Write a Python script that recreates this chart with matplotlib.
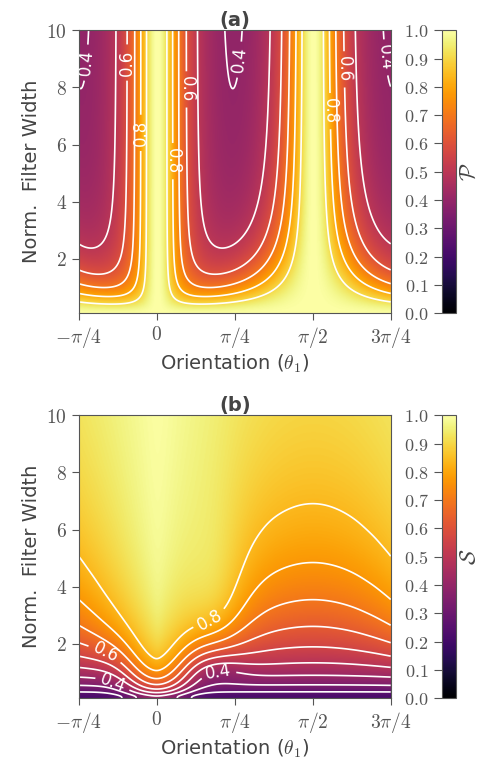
import numpy as np
import matplotlib
matplotlib.use("Agg")
import matplotlib.pyplot as plt

plt.rcParams["mathtext.fontset"] = "cm"
plt.rcParams["font.family"] = ["DejaVu Sans"]

# orientation and normalised filter width grid
theta = np.linspace(-np.pi / 4, 3 * np.pi / 4, 361)
width = np.linspace(0.1, 10.0, 400)

# joint spectrum widths (in filter-width units) used for the purity map
narrow_width = 0.67
broad_width = 3.34

# joint spectrum used for the transmission map: Gaussian across, sinc along
gauss_width = 1.75
sinc_width = 4.5
exponent = 0.4

# peak-density profile at narrow filters: angular width and roll-off width
core_dtheta = 0.28
core_rolloff = 1.6

# local asymmetry of the transmission map (walk-off side)
asym_theta = 0.6
asym_dtheta = 0.3
asym_gain = 0.075
asym_gain_width = 3.3
asym_gain_dlog = 0.5
asym_loss = 0.06
asym_loss_width = 1.1
asym_loss_dlog = 0.4

purity_levels = [0.1, 0.2, 0.3, 0.4, 0.5, 0.6, 0.7, 0.8, 0.9]
purity_labelled = purity_levels[3::2]
purity_label_pos = [(-0.722, 8.87), (0.811, 8.98), (2.28, 9.04),
                    (-0.302, 8.87), (0.318, 7.93), (1.878, 8.63),
                    (-0.185, 6.41), (0.167, 5.42), (1.761, 7.17)]

s_levels = [0.07, 0.14, 0.21, 0.28, 0.35, 0.42, 0.49, 0.56, 0.63, 0.70, 0.77, 0.84]
s_labelled = s_levels[2::3]
s_label_pos = [(0.554, 2.71), (-0.554, 1.42), (0.62, 1.02), (-0.47, 0.40)]

xticks = [-np.pi / 4, 0, np.pi / 4, np.pi / 2, 3 * np.pi / 4]
xticklabels = [r"$-\pi/4$", r"$0$", r"$\pi/4$", r"$\pi/2$", r"$3\pi/4$"]
yticks = [2, 4, 6, 8, 10]
cticks = [0.0, 0.1, 0.2, 0.3, 0.4, 0.5, 0.6, 0.7, 0.8, 0.9, 1.0]

T, W = np.meshgrid(theta, width)
cs2, sn2, cssn = np.cos(T) ** 2, np.sin(T) ** 2, np.sin(T) * np.cos(T)

# purity of a rotated Gaussian joint spectrum with one arm filtered
ia, ib = 1 / narrow_width ** 2, 1 / broad_width ** 2
qa = cs2 * ia + sn2 * ib + 1 / W ** 2
qb = sn2 * ia + cs2 * ib
qc = cssn * (ia - ib)
purity = np.sqrt(1 - qc ** 2 / (qa * qb))

# filtered fraction of the signal marginal through a Gaussian filter
freq = np.linspace(-100, 100, 601)
fx, fy = np.meshgrid(freq, freq, indexing="ij")
marg = np.empty((theta.size, freq.size))
for i, th in enumerate(theta):
    u = fx * np.cos(th) + fy * np.sin(th)
    v = -fx * np.sin(th) + fy * np.cos(th)
    jsi = np.exp(-u ** 2 / gauss_width ** 2) * np.sinc(v / (np.pi * sinc_width)) ** 2
    marg[i] = jsi.sum(axis=1)
marg /= marg.sum(axis=1, keepdims=True)
filt = np.exp(-freq[:, None] ** 2 / width[None, :] ** 2)
trans = (marg @ filt).T

# peak density of the marginal, relative to theta = pi/2, and its target profile
centre = freq.size // 2
ref = np.argmin(np.abs(theta - np.pi / 2))
peak = marg[:, centre] / marg[ref, centre]
target = 1 + (peak.max() - 1) * np.exp(-(theta / core_dtheta) ** 2)
roll = np.exp(-(W / core_rolloff) ** 2)
trans = trans * (target / peak)[None, :] ** roll

herald = np.clip(trans, 0, 1) ** exponent
lobe = np.exp(-((T - asym_theta) / asym_dtheta) ** 2)
herald = herald + lobe * (
    asym_gain * np.exp(-np.log(W / asym_gain_width) ** 2 / (2 * asym_gain_dlog ** 2))
    - asym_loss * np.exp(-np.log(W / asym_loss_width) ** 2 / (2 * asym_loss_dlog ** 2)))
herald = np.clip(herald, 0, 1)

grey = "#555555"
fig = plt.figure(figsize=(4.85, 7.65), dpi=100)

panels = [
    (purity, purity_levels, purity_labelled, purity_label_pos, r"$\mathcal{P}$", "(a)", 0.5905),
    (herald, s_levels, s_labelled, s_label_pos, r"$\mathcal{S}$", "(b)", 0.0872),
]

for field, levels, labelled, label_pos, clabel_txt, title, bottom in panels:
    ax = fig.add_axes([0.1623, bottom, 0.6433, 0.370])
    cax = fig.add_axes([0.9107, bottom, 0.0295, 0.370])
    im = ax.imshow(field, extent=[theta[0], theta[-1], width[0], width[-1]],
                   origin="lower", aspect="auto", cmap="inferno",
                   vmin=0, vmax=1, interpolation="bilinear")
    plain = [lv for lv in levels if lv not in labelled]
    ax.contour(theta, width, field, levels=plain, colors="white",
               linewidths=1.2)
    cs = ax.contour(theta, width, field, levels=labelled, colors="white",
                    linewidths=1.2)
    ax.clabel(cs, inline=True, fontsize=12, fmt="%.1f", manual=label_pos)
    ax.set_xlim(theta[0], theta[-1])
    ax.set_ylim(width[0], width[-1])
    ax.set_xticks(xticks)
    ax.set_xticklabels(xticklabels)
    ax.set_yticks(yticks)
    ax.set_yticklabels([f"${v}$" for v in yticks])
    ax.tick_params(direction="out", length=5, color=grey, labelcolor=grey,
                   labelsize=14)
    for sp in ax.spines.values():
        sp.set_color(grey)
    ax.set_xlabel(r"Orientation ($\theta_1$)", fontsize=14, color="#444444",
                  labelpad=2)
    ax.set_ylabel("Norm.  Filter Width", fontsize=14, color="#444444",
                  labelpad=4)
    ax.set_title(title, fontsize=14, fontweight="bold", color="#444444", pad=1)

    cb = fig.colorbar(im, cax=cax, ticks=cticks)
    cax.yaxis.set_ticks_position("left")
    cax.yaxis.set_label_position("right")
    cax.set_yticklabels([f"${v:.1f}$" for v in cticks])
    cax.tick_params(direction="out", length=6, color=grey, labelcolor=grey,
                    labelsize=13)
    cb.outline.set_edgecolor(grey)
    cax.set_ylabel(clabel_txt, fontsize=16, color="#444444", labelpad=3)

fig.savefig("out.png", dpi=100)
